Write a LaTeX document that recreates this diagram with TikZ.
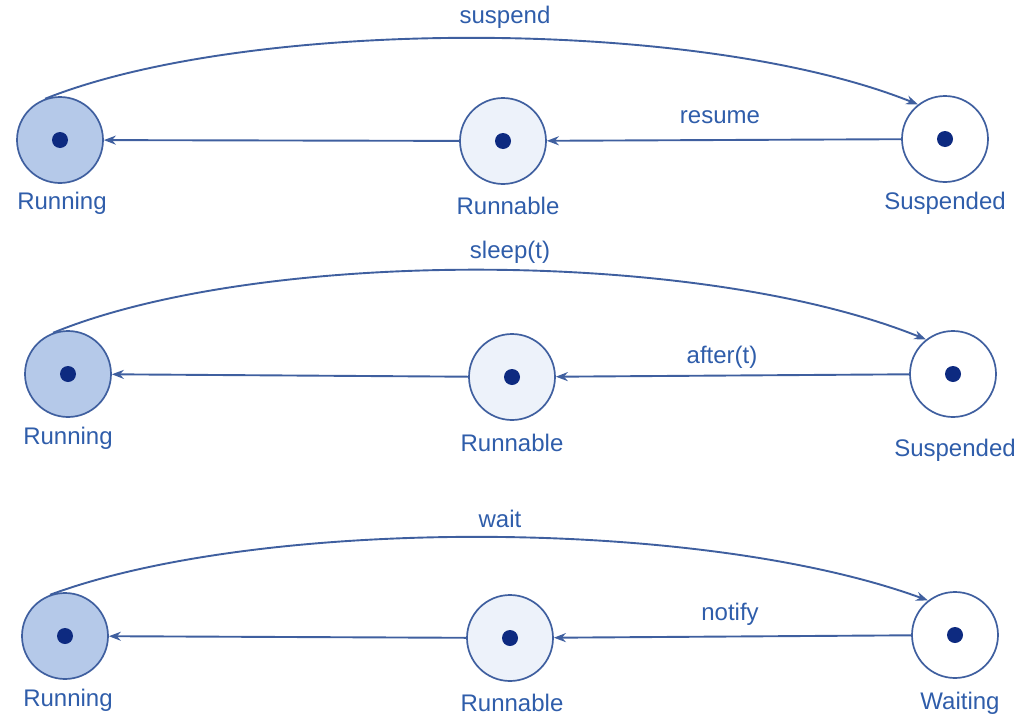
\documentclass[tikz,border=0pt]{standalone}
\usepackage{fontspec}
\setmainfont{Liberation Sans}
\usetikzlibrary{arrows.meta}
\definecolor{linec}{HTML}{3F5F9F}
\definecolor{textc}{HTML}{2F5DAA}
\definecolor{dotc}{HTML}{0D2A80}
\definecolor{runfill}{HTML}{B5C9E9}
\definecolor{rnbfill}{HTML}{EDF2FA}
\begin{document}
\begin{tikzpicture}[x=1pt,y=-1pt,
 state/.style={circle, draw=linec, line width=1.7pt, minimum size=86pt, inner sep=0pt,
   path picture={\fill[dotc] (path picture bounding box.center) circle (8pt);}},
 run/.style={state, fill=runfill},
 rnb/.style={state, fill=rnbfill},
 sus/.style={state, fill=white},
 lbl/.style={text=textc, font=\fontsize{24}{28}\selectfont, inner sep=0pt},
 arr/.style={draw=linec, line width=1.9pt, -{Stealth[length=12pt,width=9pt]}}]
\useasboundingbox (0,0) rectangle (1026,723);
% Row 1
\node[run] (r1a) at (60,140) {};
\node[rnb] (r1b) at (503,141) {};
\node[sus] (r1c) at (945,139) {};
\node[lbl] (l1a) at (62,203) {Running};
\node[lbl] (l1b) at (508,206) {Runnable};
\node[lbl] (l1c) at (945,203) {Suspended};
\draw[arr] (r1a.110) .. controls (250,17) and (700,17) .. (r1c.128);
\node[lbl] (t1) at (505,17) {suspend};
\draw[arr] (r1c) -- (r1b);
\draw[arr] (r1b) -- (r1a);
\node[lbl] (t2) at (720,117) {resume};
% Row 2
\node[run] (r2a) at (68,374) {};
\node[rnb] (r2b) at (512,377) {};
\node[sus] (r2c) at (953,374) {};
\node[lbl] (l2a) at (68,438) {Running};
\node[lbl] (l2b) at (512,443) {Runnable};
\node[lbl] (l2c) at (955,450) {Suspended};
\draw[arr] (r2a.110) .. controls (260,248) and (700,248) .. (r2c.128);
\node[lbl] (t3) at (510,252) {sleep(t)};
\draw[arr] (r2c) -- (r2b);
\draw[arr] (r2b) -- (r2a);
\node[lbl] (t4) at (722,357) {after(t)};
% Row 3
\node[run] (r3a) at (65,636) {};
\node[rnb] (r3b) at (510,638) {};
\node[sus] (r3c) at (955,635) {};
\node[lbl] (l3a) at (68,700) {Running};
\node[lbl] (l3b) at (512,703) {Runnable};
\node[lbl] (l3c) at (960,703) {Waiting};
\draw[arr] (r3a.110) .. controls (260,517) and (700,517) .. (r3c.128);
\node[lbl] (t5) at (500,519) {wait};
\draw[arr] (r3c) -- (r3b);
\draw[arr] (r3b) -- (r3a);
\node[lbl] (t6) at (730,614) {notify};
\end{tikzpicture}
\end{document}
